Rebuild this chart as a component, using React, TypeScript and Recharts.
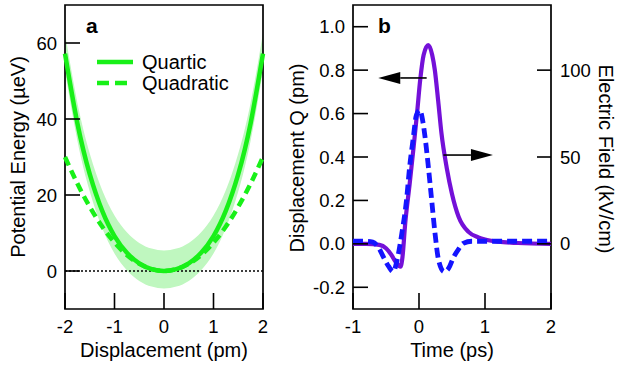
import React from "react";
import { ComposedChart, Line, Area, XAxis, YAxis, ReferenceLine, ReferenceArea } from "recharts";

const FONT = "'Liberation Sans', Arial, Helvetica, sans-serif";
const GREEN = "#18f018";
const BAND = "#bff7bf";
const PURPLE = "#7410d8";
const BLUE = "#1414ff";

// panel a: potential energy vs displacement
const dispX = [-2, -1.75, -1.5, -1.25, -1, -0.75, -0.5, -0.25, 0, 0.25, 0.5, 0.75, 1, 1.25, 1.5, 1.75, 2];
const quartic = [57.2, 38.9, 25.5, 15.9, 9.2, 4.8, 2.0, 0.5, 0, 0.5, 2.0, 4.8, 9.2, 15.9, 25.5, 38.9, 57.2];
const quadratic = [30, 23.0, 16.9, 11.7, 7.5, 4.2, 1.9, 0.5, 0, 0.5, 1.9, 4.2, 7.5, 11.7, 16.9, 23.0, 30];
const bandLow = [52.6, 34.3, 20.9, 11.3, 4.6, 0.2, -2.6, -4.1, -4.6, -4.1, -2.6, 0.2, 4.6, 11.3, 20.9, 34.3, 52.6];
const bandHigh = [62.6, 44.3, 30.9, 21.3, 14.6, 10.2, 7.4, 5.9, 5.4, 5.9, 7.4, 10.2, 14.6, 21.3, 30.9, 44.3, 62.6];
const dispTicks = [-2, -1, 0, 1, 2];
const energyTicks = [0, 20, 40, 60];

// panel b: displacement Q and electric field vs time
const qTime = [-1, -0.8, -0.6, -0.5, -0.42, -0.35, -0.28, -0.25, -0.21, -0.14, -0.08, -0.03, 0.02, 0.07, 0.14, 0.2, 0.24, 0.29, 0.34, 0.42, 0.5, 0.6, 0.75, 0.9, 1.0, 1.2, 1.5, 2.0];
const qValues = [0, 0, -0.005, -0.02, -0.05, -0.085, -0.105, -0.06, 0.09, 0.28, 0.45, 0.6, 0.76, 0.87, 0.915, 0.87, 0.8, 0.66, 0.51, 0.35, 0.23, 0.125, 0.055, 0.03, 0.02, 0.01, 0.004, 0];
const fieldTime = [-1, -0.8, -0.7, -0.6, -0.54, -0.46, -0.39, -0.33, -0.26, -0.19, -0.14, -0.09, -0.04, 0.01, 0.06, 0.09, 0.14, 0.19, 0.24, 0.3, 0.38, 0.45, 0.52, 0.6, 0.67, 0.8, 1.0, 1.5, 2.0];
const fieldValues = [1.5, 1.5, 1.0, -3, -7.5, -13, -16, -9, 6, 25, 45, 60, 74, 77, 70, 62, 45, 26, 7, -10, -16, -14, -8, -3, 0.3, 1.5, 1.5, 1.5, 1.5];
const timeTicks = [-1, 0, 1, 2];
const qTicks = [-0.2, 0, 0.2, 0.4, 0.6, 0.8, 1.0];
const fieldTicks = [0, 50, 100];

const potentialData = dispX.map((x, i) => ({
  x,
  quartic: quartic[i],
  quadratic: quadratic[i],
  band: [bandLow[i], bandHigh[i]],
}));
const qData = qTime.map((t, i) => ({ t, q: qValues[i] }));
const fieldData = fieldTime.map((t, i) => ({ t, e: fieldValues[i] }));

const tickStyle = { fill: "#000", fontSize: 18.5, fontFamily: FONT };
const tickLine = { stroke: "#000", strokeWidth: 1.6 };

const Arrow = (props: any) => {
  const { x1, y1, x2, y2 } = props;
  const dir = Math.sign(x2 - x1);
  const head = 22;
  return (
    <g>
      <line x1={x1} y1={y1} x2={x2 - dir * head} y2={y2} stroke="#000" strokeWidth={1.6} />
      <polygon points={`${x2},${y2} ${x2 - dir * head},${y2 - 6} ${x2 - dir * head},${y2 + 6}`} fill="#000" />
    </g>
  );
};

function PotentialPanel() {
  return (
    <ComposedChart width={310} height={365} data={potentialData} margin={{ top: 5, right: 47, bottom: 0, left: 0 }}>
      <XAxis type="number" dataKey="x" domain={[-2, 2]} ticks={dispTicks} interval={0} height={56}
        axisLine={false} tickLine={tickLine} tickSize={-16} tickMargin={27} tick={tickStyle} />
      <YAxis type="number" domain={[-10, 70]} ticks={energyTicks} interval={0} width={65}
        axisLine={false} tickLine={tickLine} tickSize={-15} tickMargin={23} tick={tickStyle} />
      <Area type="natural" dataKey="band" fill={BAND} fillOpacity={1} stroke="none" isAnimationActive={false} />
      <ReferenceLine y={0} stroke="#000" strokeWidth={1.6} strokeDasharray="2 2" />
      <Line type="natural" dataKey="quartic" stroke={GREEN} strokeWidth={4.5} dot={false} isAnimationActive={false} />
      <Line type="natural" dataKey="quadratic" stroke={GREEN} strokeWidth={4.5} strokeDasharray="9 5.5" dot={false} isAnimationActive={false} />
      <ReferenceArea x1={-2} x2={2} y1={-10} y2={70} fill="none" stroke="#000" strokeWidth={1.7} />
    </ComposedChart>
  );
}

function PulsePanel() {
  return (
    <ComposedChart width={310} height={365} margin={{ top: 5, right: 0, bottom: 0, left: 0 }}>
      <XAxis type="number" dataKey="t" domain={[-1, 2]} ticks={timeTicks} interval={0} height={56}
        axisLine={false} tickLine={tickLine} tickSize={-16} tickMargin={27} tick={tickStyle} />
      <YAxis yAxisId="left" type="number" domain={[-0.3, 1.1]} ticks={qTicks} interval={0} width={43}
        tickFormatter={(v: number) => v.toFixed(1)}
        axisLine={false} tickLine={tickLine} tickSize={-15} tickMargin={23} tick={tickStyle} />
      <YAxis yAxisId="right" orientation="right" type="number" domain={[-37.5, 137.5]} ticks={fieldTicks} interval={0} width={69}
        axisLine={false} tickLine={tickLine} tickSize={-14} tickMargin={23} tick={tickStyle} />
      <Line yAxisId="left" data={qData} type="monotone" dataKey="q" stroke={PURPLE} strokeWidth={4.2} dot={false} isAnimationActive={false} />
      <Line yAxisId="right" data={fieldData} type="monotone" dataKey="e" stroke={BLUE} strokeWidth={4.8} strokeDasharray="10 5" dot={false} isAnimationActive={false} />
      <ReferenceLine yAxisId="left" segment={[{ x: 0.116, y: 0.764 }, { x: -0.617, y: 0.764 }]} shape={Arrow} />
      <ReferenceLine yAxisId="left" segment={[{ x: 0.37, y: 0.409 }, { x: 1.12, y: 0.409 }]} shape={Arrow} />
      <ReferenceArea yAxisId="left" x1={-1} x2={2} y1={-0.3} y2={1.1} fill="none" stroke="#000" strokeWidth={1.7} />
    </ComposedChart>
  );
}

export default function App() {
  return (
    <div style={{ position: "absolute", left: 0, top: 0, width: 620, height: 365, background: "#fff" }}>
      <div style={{ position: "absolute", left: 0, top: 0 }}>
        <PotentialPanel />
      </div>
      <div style={{ position: "absolute", left: 310, top: 0 }}>
        <PulsePanel />
      </div>
      <svg width={620} height={365} style={{ position: "absolute", left: 0, top: 0, pointerEvents: "none" }}
        fontFamily={FONT} fill="#000">
        <text x={86} y={33} fontSize={21} fontWeight="bold">a</text>
        <text x={378} y={33} fontSize={21} fontWeight="bold">b</text>
        <line x1={97} y1={62} x2={133} y2={62} stroke={GREEN} strokeWidth={4.5} />
        <line x1={97} y1={83} x2={133} y2={83} stroke={GREEN} strokeWidth={4.5} strokeDasharray="12 6" />
        <text x={142} y={69} fontSize={20}>Quartic</text>
        <text x={142} y={90} fontSize={20}>Quadratic</text>
        <text x={164} y={357} fontSize={20} textAnchor="middle">Displacement (pm)</text>
        <text x={452} y={357} fontSize={20} textAnchor="middle">Time (ps)</text>
        <text transform="translate(18,157) rotate(-90)" fontSize={20} textAnchor="middle" dominantBaseline="central">Potential Energy (µeV)</text>
        <text transform="translate(297,158) rotate(-90)" fontSize={20} textAnchor="middle" dominantBaseline="central">Displacement Q (pm)</text>
        <text transform="translate(606,159) rotate(90)" fontSize={20} textAnchor="middle" dominantBaseline="central">Electric Field (kV/cm)</text>
      </svg>
    </div>
  );
}
